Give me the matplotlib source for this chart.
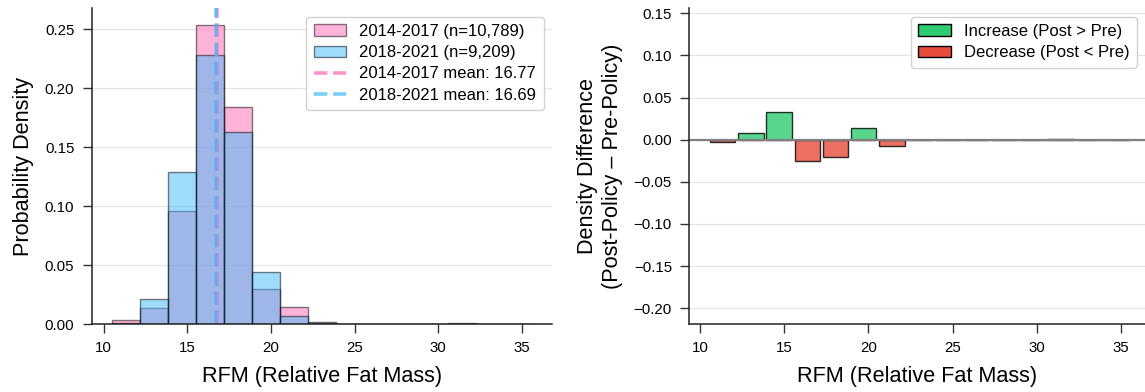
import numpy as np
import matplotlib
matplotlib.use("Agg")
import matplotlib.pyplot as plt
from matplotlib.patches import Patch

plt.rcParams['font.family'] = ['Liberation Sans', 'DejaVu Sans']

# ---- data ----
bin_start = 10.51
bin_width = 1.675
n_bins = 15
pre_density = [0.0031, 0.0138, 0.0957, 0.2539, 0.1838, 0.0296, 0.0147, 0.0015,
               0.0003, 0.0002, 0.0001, 0.0001, 0.0004, 0.0001, 0.0001]
post_density = [0.0008, 0.0215, 0.1290, 0.2282, 0.1632, 0.0438, 0.0071, 0.0008,
                0.0002, 0.0001, 0.0001, 0.0001, 0.0012, 0.0001, 0.0001]
pre_label = "2014-2017 (n=10,789)"
post_label = "2018-2021 (n=9,209)"
pre_mean = 16.77
post_mean = 16.69
x_ticks = [10, 15, 20, 25, 30, 35]
left_yticks = [0.00, 0.05, 0.10, 0.15, 0.20, 0.25]
right_yticks = [-0.20, -0.15, -0.10, -0.05, 0.00, 0.05, 0.10, 0.15]

edges = bin_start + bin_width * np.arange(n_bins + 1)
lefts = edges[:-1]
centers = lefts + bin_width / 2
pre = np.array(pre_density)
post = np.array(post_density)
diff = post - pre

PINK = '#FF69B4'
BLUE = '#41B9F9'
GREEN = '#2ecc71'
RED = '#e74c3c'

W, H = 1145, 392
fig = plt.figure(figsize=(W / 100, H / 100), dpi=100)
ax1 = fig.add_axes([91.7 / W, (H - 324) / H, 460.6 / W, (324 - 8.3) / H])
ax2 = fig.add_axes([689.3 / W, (H - 324) / H, (W - 689.3) / W, (324 - 8.3) / H])

TICK_FS = 10.8
LABEL_FS = 15.6
LEG_FS = 12

for ax in (ax1, ax2):
    for s in ('top', 'right'):
        ax.spines[s].set_visible(False)
    for s in ('left', 'bottom'):
        ax.spines[s].set_color('#222222')
        ax.spines[s].set_linewidth(1.1)
    ax.tick_params(direction='out', length=6.5, width=1.0, color='#333333',
                   labelsize=TICK_FS, pad=6)
    ax.set_axisbelow(True)
    ax.yaxis.grid(True, color='#e6e6e6', linewidth=0.9)
    ax.set_xticks(x_ticks)

leg_kw = dict(loc='upper right', fontsize=LEG_FS, frameon=True, fancybox=True,
              framealpha=0.9, edgecolor='#cccccc', borderpad=0.45,
              handlelength=1.95, handletextpad=0.78, labelspacing=0.37)

# ---- left: overlapping histograms ----
b1 = ax1.bar(lefts, pre, width=bin_width, align='edge', color=PINK, alpha=0.5,
             edgecolor='black', linewidth=1.0, label=pre_label)
b2 = ax1.bar(lefts, post, width=bin_width, align='edge', color=BLUE, alpha=0.5,
             edgecolor='black', linewidth=1.0, label=post_label)
l1 = ax1.axvline(pre_mean, color=PINK, alpha=0.7, linestyle='--', linewidth=2.6,
                 label=f"2014-2017 mean: {pre_mean:.2f}")
l2 = ax1.axvline(post_mean, color=BLUE, alpha=0.7, linestyle='--', linewidth=2.6,
                 label=f"2018-2021 mean: {post_mean:.2f}")
ax1.set_xlim(9.28, 36.83)
ax1.set_ylim(0, 0.2678)
ax1.set_yticks(left_yticks)
ax1.set_yticklabels([f"{v:.2f}" for v in left_yticks])
ax1.set_xlabel("RFM (Relative Fat Mass)", fontsize=LABEL_FS, labelpad=8)
ax1.set_ylabel("Probability Density", fontsize=LABEL_FS, labelpad=8)
ax1.legend(handles=[b1, b2, l1, l2], **leg_kw)

# ---- right: difference bars ----
colors = [GREEN if d > 0 else RED for d in diff]
ax2.bar(centers, diff, width=bin_width * 0.9, color=colors, alpha=0.8,
        edgecolor='black', linewidth=1.0)
ax2.axhline(0, color='gray', linewidth=1.6)
ax2.set_xlim(9.365, 36.43)
ax2.set_ylim(-0.2187, 0.156)
ax2.set_yticks(right_yticks)
ax2.set_yticklabels([f"{v:.2f}".replace('-', '\u2212') for v in right_yticks])
ax2.set_xlabel("RFM (Relative Fat Mass)", fontsize=LABEL_FS, labelpad=8)
ax2.set_ylabel("Density Difference\n(Post-Policy \u2013 Pre-Policy)",
               fontsize=LABEL_FS, labelpad=8)
handles = [Patch(facecolor=GREEN, edgecolor='black', label='Increase (Post > Pre)'),
           Patch(facecolor=RED, edgecolor='black', label='Decrease (Post < Pre)')]
ax2.legend(handles=handles, **leg_kw)

fig.savefig("out.png", dpi=100)
